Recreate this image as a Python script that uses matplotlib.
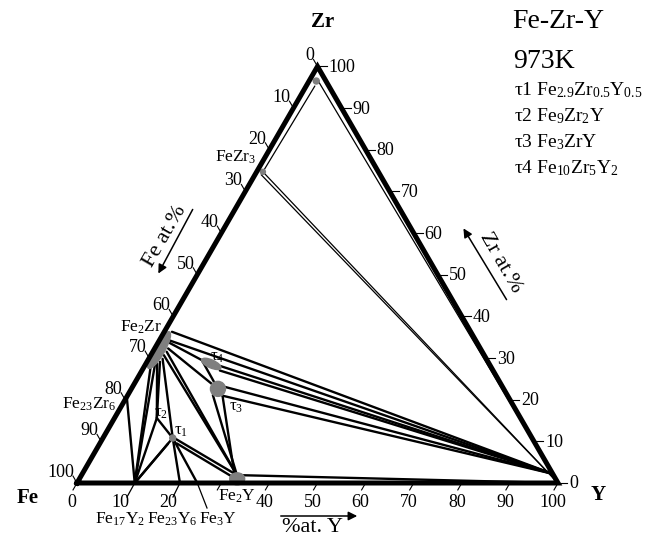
import numpy as np
import matplotlib

matplotlib.use("Agg")

import matplotlib.pyplot as plt  # noqa: E402
from matplotlib.patches import Circle, Ellipse  # noqa: E402

plt.rcParams["font.family"] = ["Liberation Serif", "DejaVu Serif"]
plt.rcParams["mathtext.fontset"] = "custom"
plt.rcParams["mathtext.rm"] = "Liberation Serif"
plt.rcParams["mathtext.it"] = "Liberation Serif:italic"
plt.rcParams["mathtext.bf"] = "Liberation Serif:bold"

# phase points as (at.% Y, at.% Zr), Fe is the balance
names = ["Yc", "ZrSS", "ZrY", "FeZr3", "FeZr3b",
         "F0", "F1", "F2", "F3", "F4", "F5", "F6", "F7", "F8", "F9", "F10",
         "Fe23Zr6", "Fe17Y2", "Fe23Y6", "Fe3Y", "Fe2Ya", "Fe2Yb",
         "t1", "t1a", "t1b", "t1e", "t2", "t3", "t3a", "t3b", "t3c", "t3d",
         "t4L", "t4Ra", "t4Rb", "Yss"]
at_y = [100, 1.8, 1.8, 1.3, 1.3,
        1.6, 2.2, 2.5, 2.8, 2.9, 2.7, 2.9, 2.7, 2.3, 1.9, 1.2,
        0, 12, 21.4, 25, 32.3, 32.3,
        14.5, 15.0, 16.0, 14.2, 8.8, 18.0, 17.7, 20.0, 17.6, 19.6,
        11.2, 15.7, 16.2, 97.8]
at_zr = [0, 95.3, 96.6, 74.7, 74.0,
         36.3, 34.2, 33.6, 32.3, 31.5, 30.7, 29.8, 29.1, 28.7, 28.7, 28.3,
         20.7, 0, 0, 0, 1.9, 1.1,
         10.8, 10.7, 9.5, 9.4, 15.6, 22.6, 21.1, 20.6, 23.5, 21.0,
         29.5, 28.1, 27.0, 2.2]

thin_lines = [("ZrSS", "FeZr3"), ("ZrY", "Yc")]
mid_lines = [("FeZr3", "Yc"), ("FeZr3b", "Yc")]
tie_lines = [("F0", "Yss"), ("F1", "Yss"), ("F2", "t4L"), ("F3", "t3"),
             ("F4", "Fe2Ya"), ("F5", "Fe2Ya"), ("F6", "t1"),
             ("F7", "t2"), ("F8", "t2"), ("F9", "Fe17Y2"), ("F10", "Fe17Y2"),
             ("Fe23Zr6", "Fe17Y2"), ("t2", "t1"), ("t2", "Fe17Y2"),
             ("t1", "Fe17Y2"), ("t1e", "Fe17Y2"), ("t1", "Fe23Y6"),
             ("t1", "Fe3Y"), ("t1a", "Fe2Ya"), ("t1b", "Fe2Yb"),
             ("t4L", "t3"), ("t3a", "Fe2Ya"), ("t3b", "Fe2Yb"),
             ("t4Ra", "Yss"), ("t4Rb", "Yss"), ("t3c", "Yss"), ("t3d", "Yss"),
             ("Fe2Ya", "Yc")]

ticks = list(range(0, 101, 10))
legend_rows = ["τ1 Fe$_{2.9}$Zr$_{0.5}$Y$_{0.5}$", "τ2 Fe$_9$Zr$_2$Y",
               "τ3 Fe$_3$ZrY", "τ4 Fe$_{10}$Zr$_5$Y$_2$"]

S3 = np.sqrt(3) / 2
S = 481.0  # pixels per unit edge


def tern(y, zr):
    y = np.asarray(y, dtype=float) / 100
    zr = np.asarray(zr, dtype=float) / 100
    return y + zr / 2, zr * S3


def px(x, y):
    return (x - 77) / S, (483 - y) / S


P = {n: tern(a, b) for n, a, b in zip(names, at_y, at_zr)}

fig = plt.figure(figsize=(6.49, 5.40), dpi=100)
ax = fig.add_axes([0, 0, 1, 1])
ax.set_xlim(-77 / S, (649 - 77) / S)
ax.set_ylim((483 - 540) / S, 483 / S)
ax.axis("off")


def seg(a, b, lw, z=3):
    ax.plot([P[a][0], P[b][0]], [P[a][1], P[b][1]], color="black",
            lw=lw, solid_capstyle="round", zorder=z)


for a, b in thin_lines:
    seg(a, b, 0.9)
for a, b in mid_lines:
    seg(a, b, 0.9)
for a, b in tie_lines:
    seg(a, b, 1.7)

gray = "#7f7f7f"
c = tern(1.1, 31.9)
ax.add_patch(Ellipse(c, 42 / S, 11 / S, angle=60, color=gray, zorder=4))
c = tern(13.6, 28.6)
ax.add_patch(Ellipse(c, 21 / S, 8 / S, angle=-24, color=gray, zorder=4))
ax.add_patch(Circle(P["t3"], 7.5 / S, color=gray, zorder=4))
c = tern(32.8, 1.0)
ax.add_patch(Ellipse(c, 15 / S, 12 / S, color=gray, zorder=4))
ax.add_patch(Circle(P["t1"], 3 / S, color=gray, zorder=4))
c = tern(1.5, 96.5)
ax.add_patch(Circle(c, 3 / S, color=gray, zorder=4))
ax.add_patch(Circle(P["FeZr3"], 2.5 / S, color=gray, zorder=4))

# triangle frame
cx, cy = tern([0, 100, 0, 0], [0, 0, 100, 0])
ax.plot(cx, cy, color="black", lw=3.6, solid_joinstyle="miter", zorder=6)

L = 8 / S
k = 0.72  # points per pixel
fs = 13
for v in ticks:
    # bottom: at.% Y
    x0, y0 = tern(v, 0)
    if v not in (10, 20):
        ax.plot([x0, x0 - 0.5 * L], [y0, y0 - S3 * L], color="black",
                lw=0.8, zorder=6)
    if v != 30:
        ax.annotate(str(v), (x0, y0), xytext=(-5 * k, -11 * k),
                    textcoords="offset points", ha="center", va="top",
                    fontsize=fs)
    # left: at.% Fe
    x0, y0 = tern(0, 100 - v)
    ax.plot([x0, x0 - 0.5 * L], [y0, y0 + S3 * L], color="black", lw=0.8,
            zorder=6)
    ax.annotate(str(v), (x0, y0), xytext=(-3 * k, 6 * k),
                textcoords="offset points", ha="right", va="baseline",
                fontsize=fs)
    # right: at.% Zr
    x0, y0 = tern(100 - v, v)
    ax.plot([x0, x0 + 9 / S], [y0, y0], color="black", lw=0.8, zorder=6)
    ax.annotate(str(v), (x0, y0), xytext=(11 * k, -1 * k),
                textcoords="offset points", ha="left", va="center",
                fontsize=fs)

# leaders to compound labels
for n, end in [("Fe17Y2", (127, 497)), ("Fe23Y6", (173, 497)),
               ("Fe3Y", (207, 508))]:
    ex, ey = px(*end)
    ax.plot([P[n][0], ex], [P[n][1], ey], color="black", lw=0.9, zorder=6)


def lab(s, x, y, size, **kw):
    kw.setdefault("ha", "center")
    kw.setdefault("va", "center")
    ax.text(*px(x, y), s, fontsize=size, zorder=7, **kw)


lab("Zr", 323, 22, 15, fontweight="bold")
lab("Fe", 28, 498, 15, fontweight="bold")
lab("Y", 598, 495, 15, fontweight="bold")

lab("FeZr$_3$", 236, 157, 12.5)
lab("Fe$_2$Zr", 141, 327, 12.5)
lab("Fe$_{23}$Zr$_6$", 89, 404, 12.5)
lab("Fe$_{17}$Y$_2$", 120, 519, 12.5)
lab("Fe$_{23}$Y$_6$", 172, 519, 12.5)
lab("Fe$_3$Y", 218, 519, 12.5)
lab("Fe$_2$Y", 237, 496, 12.5)
lab("τ$_4$", 217, 357, 12)
lab("τ$_3$", 236, 407, 12)
lab("τ$_2$", 161, 413, 12)
lab("τ$_1$", 181, 431, 12)

lab("Fe at.%", 165, 236, 16, rotation=60, rotation_mode="anchor")
lab("Zr at.%", 501, 263, 16, rotation=-60, rotation_mode="anchor")
lab("%at. Y", 312, 528, 16)

arrow = dict(arrowstyle="-|>", lw=1.1, color="black", mutation_scale=13)
ax.annotate("", xy=px(157, 276), xytext=px(194, 207), arrowprops=arrow)
ax.annotate("", xy=px(462, 226), xytext=px(508, 302), arrowprops=arrow)
ax.annotate("", xy=px(360, 516), xytext=px(278, 516), arrowprops=arrow)

lab("Fe-Zr-Y", 512, 22, 20, ha="left")
lab("973K", 513, 62, 20, ha="left")
for i, row in enumerate(legend_rows):
    lab(row, 514, 90 + 26 * i, 14, ha="left")

fig.savefig("out.png", dpi=100)
